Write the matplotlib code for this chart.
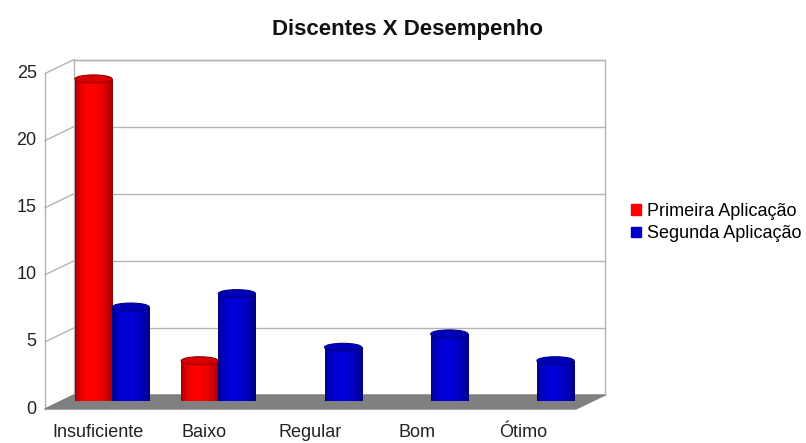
import matplotlib.pyplot as plt
from matplotlib.patches import Ellipse, Polygon, Rectangle
import numpy as np

categories = ["Insuficiente", "Baixo", "Regular", "Bom", "Ótimo"]
primeira = [24, 3, 0, 0, 0]
segunda = [7, 8, 4, 5, 3]
series_labels = ["Primeira Aplicação", "Segunda Aplicação"]
y_ticks = [0, 5, 10, 15, 20, 25]

plt.rcParams['font.family'] = ['Liberation Sans', 'DejaVu Sans']

fig = plt.figure(figsize=(8.06, 4.43), dpi=100)
# axes = middle depth plane where the cylinders stand
ax = fig.add_axes([59 / 806, 42 / 443, 531 / 806, 335.5 / 443])
ax.set_xlim(-0.5, 4.5)
ax.set_ylim(0, 25)
ax.axis("off")

px_x = 531 / 5.0      # pixels per category unit
px_y = 335.5 / 25.0   # pixels per value unit


def back(x, y):
    return x + 15 / px_x, y + 6 / px_y


def front(x, y):
    return x - 14 / px_x, y - 8 / px_y


grid_col = "#b3b3b3"
x0, x1 = -0.5, 4.5

# back wall
bl = back(x0, 0)
ax.add_patch(Rectangle(bl, x1 - x0, 25, facecolor="white", edgecolor=grid_col,
                       lw=1, clip_on=False, zorder=0))
for v in y_ticks:
    a = back(x0, v)
    b = back(x1, v)
    ax.plot([a[0], b[0]], [a[1], b[1]], color=grid_col, lw=1, clip_on=False, zorder=1)
    c = front(x0, v)
    ax.plot([c[0], a[0]], [c[1], a[1]], color=grid_col, lw=1, clip_on=False, zorder=1)

# front axis line
fa, fb = front(x0, 0), front(x0, 25)
ax.plot([fa[0], fb[0]], [fa[1], fb[1]], color=grid_col, lw=1, clip_on=False, zorder=1)

# floor
floor = Polygon([front(x0, 0), front(x1, 0), back(x1, 0), back(x0, 0)],
                closed=True, facecolor="#808080", edgecolor="#808080",
                clip_on=False, zorder=2)
ax.add_patch(floor)

# y tick labels on the front plane
for v in y_ticks:
    p = front(x0, v)
    ax.annotate(str(v), xy=p, xytext=(-6, 0), textcoords="offset points",
                ha="right", va="center", fontsize=13, color="#222222",
                annotation_clip=False)

# category labels
for i, name in enumerate(categories):
    p = front(i, 0)
    ax.annotate(name, xy=p, xytext=(0, -11), textcoords="offset points",
                ha="center", va="top", fontsize=13, color="#222222",
                annotation_clip=False)

bar_w = 0.35
ell_h = 8 / px_y
t = np.linspace(0, 1, 64)
shade = 0.55 + 0.45 * np.clip(np.sin(np.pi * t ** 0.8), 0, 1) ** 0.6


def cylinders(xs, vals, rgb, label):
    bars = ax.bar(xs, vals, bar_w, color=rgb, label=label, zorder=3)
    grad = np.array([[[rgb[0] * s, rgb[1] * s, rgb[2] * s] for s in shade]])
    for xc, h, bar in zip(xs, vals, bars):
        if h <= 0:
            bar.set_visible(False)
            continue
        ax.add_patch(Ellipse((xc, 0), bar_w, ell_h, facecolor=np.array(rgb) * 0.8,
                             edgecolor="none", zorder=3.5))
        im = ax.imshow(grad, extent=[xc - bar_w / 2, xc + bar_w / 2, 0, h],
                       aspect="auto", zorder=4, interpolation="bilinear")
        im.set_clip_path(bar)
        ax.add_patch(Ellipse((xc, h), bar_w, ell_h, facecolor=np.array(rgb) * 0.85,
                             edgecolor=np.array(rgb) * 0.6, lw=0.8, zorder=5))
    return bars


xpos = np.arange(len(categories))
b1 = cylinders(xpos - bar_w / 2, primeira, (1.0, 0.0, 0.0), series_labels[0])
b2 = cylinders(xpos + bar_w / 2, segunda, (0.0, 0.0, 0.85), series_labels[1])
ax.set_xlim(-0.5, 4.5)
ax.set_ylim(0, 25)

h1 = Rectangle((0, 0), 1, 1, color="#ff0000")
h2 = Rectangle((0, 0), 1, 1, color="#0000cc")
fig.legend([h1, h2], series_labels, loc="upper left",
           bbox_to_anchor=(631 / 806, 1 - 203 / 443), frameon=False,
           fontsize=13, handlelength=0.55, handleheight=0.55, handletextpad=0.35,
           labelspacing=0.3, borderaxespad=0, borderpad=0)

fig.text(408 / 806, 1 - 30 / 443, "Discentes X Desempenho", ha="center",
         va="center", fontsize=16, fontweight="bold", color="#111111")

fig.savefig("out.png", dpi=100)
